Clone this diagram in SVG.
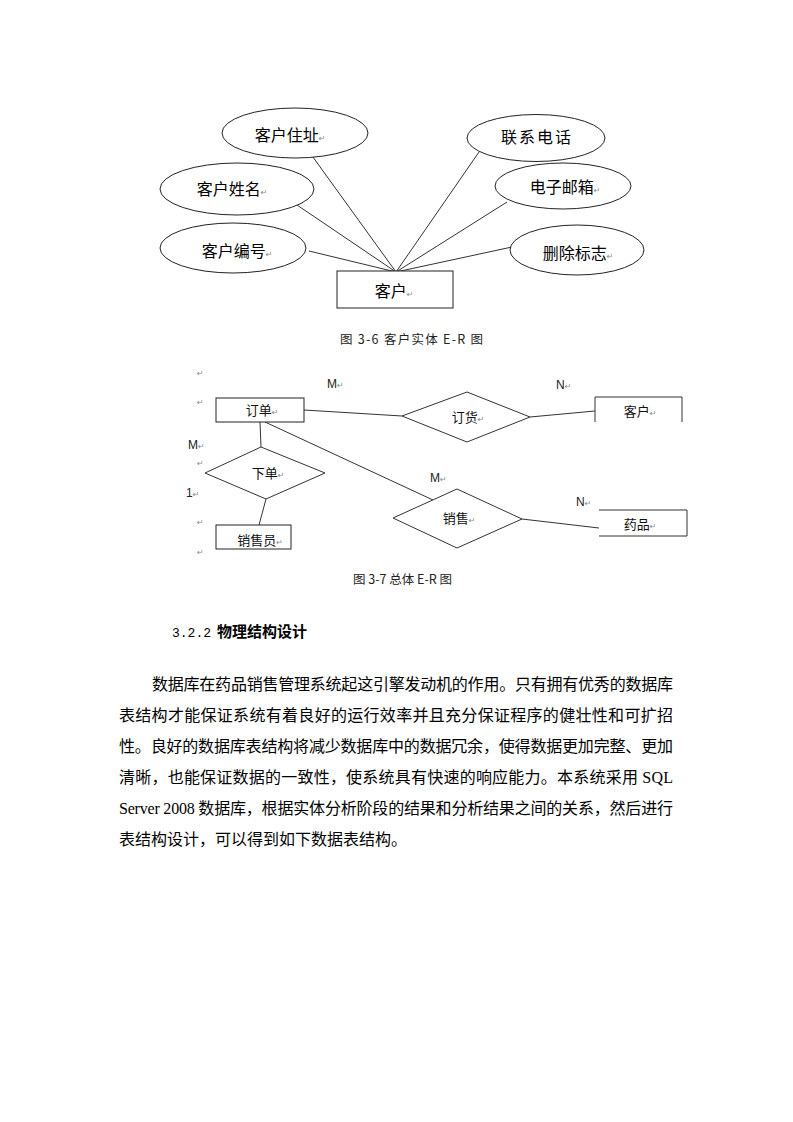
<svg xmlns="http://www.w3.org/2000/svg" width="793" height="1122" viewBox="0 0 793 1122">
<style>
.bg{fill:#fff}
.sh{fill:#fff;stroke:#222;stroke-width:1}
.sh2{fill:#fff;stroke:#333;stroke-width:1}
.ln{stroke:#333;stroke-width:1;fill:none}
.t1{font-family:"Noto Sans CJK SC","Liberation Sans",sans-serif;font-size:16px;fill:#000;text-anchor:middle}
.t2{font-family:"Noto Sans CJK SC","Liberation Sans",sans-serif;font-size:13px;fill:#111;text-anchor:middle}
.rm{font-family:"DejaVu Sans",sans-serif;font-size:8px;fill:#888}
.lb{font-family:"Liberation Sans",sans-serif;font-size:12px;fill:#222}
.cap{font-family:"Noto Sans CJK SC","Liberation Sans",sans-serif;font-size:12.5px;fill:#222}
.h{font-family:"Noto Sans CJK SC",sans-serif;font-size:15px;font-weight:bold;fill:#000}
.hn{font-family:"Liberation Mono",monospace;font-size:13px;fill:#000}
.p{font-family:"Liberation Serif","Noto Sans CJK SC",serif;font-size:16px;fill:#000}
</style>
<defs>
<clipPath id="clipKH"><rect x="590" y="390" width="100" height="29"/></clipPath>
</defs>
<rect class="bg" x="0" y="0" width="793" height="1122"/>

<g id="connectors1">
<line class="ln" x1="310" y1="153" x2="396" y2="272"/>
<line class="ln" x1="297" y1="205" x2="396" y2="272"/>
<line class="ln" x1="309" y1="251" x2="396" y2="272"/>
<line class="ln" x1="479" y1="152" x2="396" y2="272"/>
<line class="ln" x1="507" y1="202" x2="396" y2="272"/>
<line class="ln" x1="512" y1="247" x2="396" y2="272"/>
</g>

<g id="attr-address"><ellipse class="sh" cx="295" cy="133" rx="73" ry="25"/><text class="t1" x="290" y="141">客户住址<tspan class="rm">↵</tspan></text></g>
<g id="attr-name"><ellipse class="sh" cx="237" cy="189" rx="77" ry="26"/><text class="t1" x="232" y="195">客户姓名<tspan class="rm">↵</tspan></text></g>
<g id="attr-id"><ellipse class="sh" cx="233" cy="248" rx="73" ry="25"/><text class="t1" x="237" y="257">客户编号<tspan class="rm">↵</tspan></text></g>
<g id="attr-phone"><ellipse class="sh" cx="536" cy="138" rx="69" ry="23.5"/><text class="t1" x="537" y="143" letter-spacing="2">联系电话</text></g>
<g id="attr-email"><ellipse class="sh" cx="563" cy="186" rx="68" ry="23"/><text class="t1" x="565" y="193">电子邮箱<tspan class="rm">↵</tspan></text></g>
<g id="attr-delete"><ellipse class="sh" cx="577" cy="250" rx="67" ry="25"/><text class="t1" x="578" y="259">删除标志<tspan class="rm">↵</tspan></text></g>
<g id="entity-customer"><rect class="sh" x="337" y="271" width="116" height="37"/><text class="t1" x="394" y="297">客户<tspan class="rm">↵</tspan></text></g>

<g id="caption1"><text class="cap" x="340" y="344" textLength="143" lengthAdjust="spacing">图 3-6 客户实体 E-R 图</text></g>

<g id="connectors2">
<line class="ln" x1="304" y1="410" x2="402" y2="416"/>
<line class="ln" x1="530" y1="417" x2="595" y2="411"/>
<line class="ln" x1="260" y1="422" x2="261" y2="447"/>
<line class="ln" x1="266" y1="499" x2="259" y2="525"/>
<line class="ln" x1="265" y1="422" x2="433" y2="500"/>
<line class="ln" x1="522" y1="519" x2="599" y2="528"/>
</g>

<g id="margin-marks">
<text class="rm" x="197" y="376">↵</text>
<text class="rm" x="197" y="405">↵</text>
<text class="lb" x="188" y="449">M<tspan class="rm">↵</tspan></text>
<text class="rm" x="197" y="466">↵</text>
<text class="lb" x="186" y="497">1<tspan class="rm">↵</tspan></text>
<text class="rm" x="197" y="525">↵</text>
<text class="rm" x="197" y="555">↵</text>
</g>

<g id="entity-order"><rect class="sh" x="216" y="398" width="88" height="24"/><text class="t2" x="262" y="415">订单<tspan class="rm">↵</tspan></text></g>
<g id="rel-order-goods"><polygon class="sh2" points="402,416 467,392 530,417 467,442"/><text class="t2" x="468" y="422">订货<tspan class="rm">↵</tspan></text></g>
<g id="entity-customer2"><path class="ln" d="M595,422 V397 H682 V422"/><text class="t2" x="640" y="416" clip-path="url(#clipKH)">客户<tspan class="rm">↵</tspan></text></g>
<g id="rel-place"><polygon class="sh2" points="205,473 261,447 325,473 266,499"/><text class="t2" x="268" y="478">下单<tspan class="rm">↵</tspan></text></g>
<g id="entity-salesman"><rect class="sh" x="216" y="525" width="75" height="24"/><text class="t2" x="260" y="545">销售员<tspan class="rm">↵</tspan></text></g>
<g id="rel-sale"><polygon class="sh2" points="393,518 457,489 522,519 457,548"/><text class="t2" x="459" y="523">销售<tspan class="rm">↵</tspan></text></g>
<g id="entity-drug"><path class="ln" d="M599,510 H687 V536 H599"/><text class="t2" x="640" y="529">药品<tspan class="rm">↵</tspan></text></g>

<g id="cardinality">
<text class="lb" x="327" y="388">M<tspan class="rm">↵</tspan></text>
<text class="lb" x="556" y="389">N<tspan class="rm">↵</tspan></text>
<text class="lb" x="430" y="482">M<tspan class="rm">↵</tspan></text>
<text class="lb" x="576" y="506" font-size="10" fill="#1a3a6a">N<tspan class="rm">↵</tspan></text>
</g>

<g id="caption2"><text class="cap" x="353" y="584" textLength="99" lengthAdjust="spacing">图 3-7 总体 E-R 图</text></g>

<g id="heading"><text x="172" y="637"><tspan class="hn">3.2.2</tspan><tspan class="h" dx="6">物理结构设计</tspan></text></g>

<g id="paragraph">
<text class="p" x="152" y="690" textLength="521" lengthAdjust="spacing">数据库在药品销售管理系统起这引擎发动机的作用。只有拥有优秀的数据库</text>
<text class="p" x="119" y="721" textLength="554" lengthAdjust="spacing">表结构才能保证系统有着良好的运行效率并且充分保证程序的健壮性和可扩招</text>
<text class="p" x="119" y="752" textLength="554" lengthAdjust="spacing">性。良好的数据库表结构将减少数据库中的数据冗余，使得数据更加完整、更加</text>
<text class="p" x="119" y="783" textLength="554" lengthAdjust="spacing">清晰，也能保证数据的一致性，使系统具有快速的响应能力。本系统采用 SQL</text>
<text class="p" x="119" y="814" textLength="554" lengthAdjust="spacing">Server 2008 数据库，根据实体分析阶段的结果和分析结果之间的关系，然后进行</text>
<text class="p" x="119" y="845">表结构设计，可以得到如下数据表结构。</text>
</g>
</svg>
